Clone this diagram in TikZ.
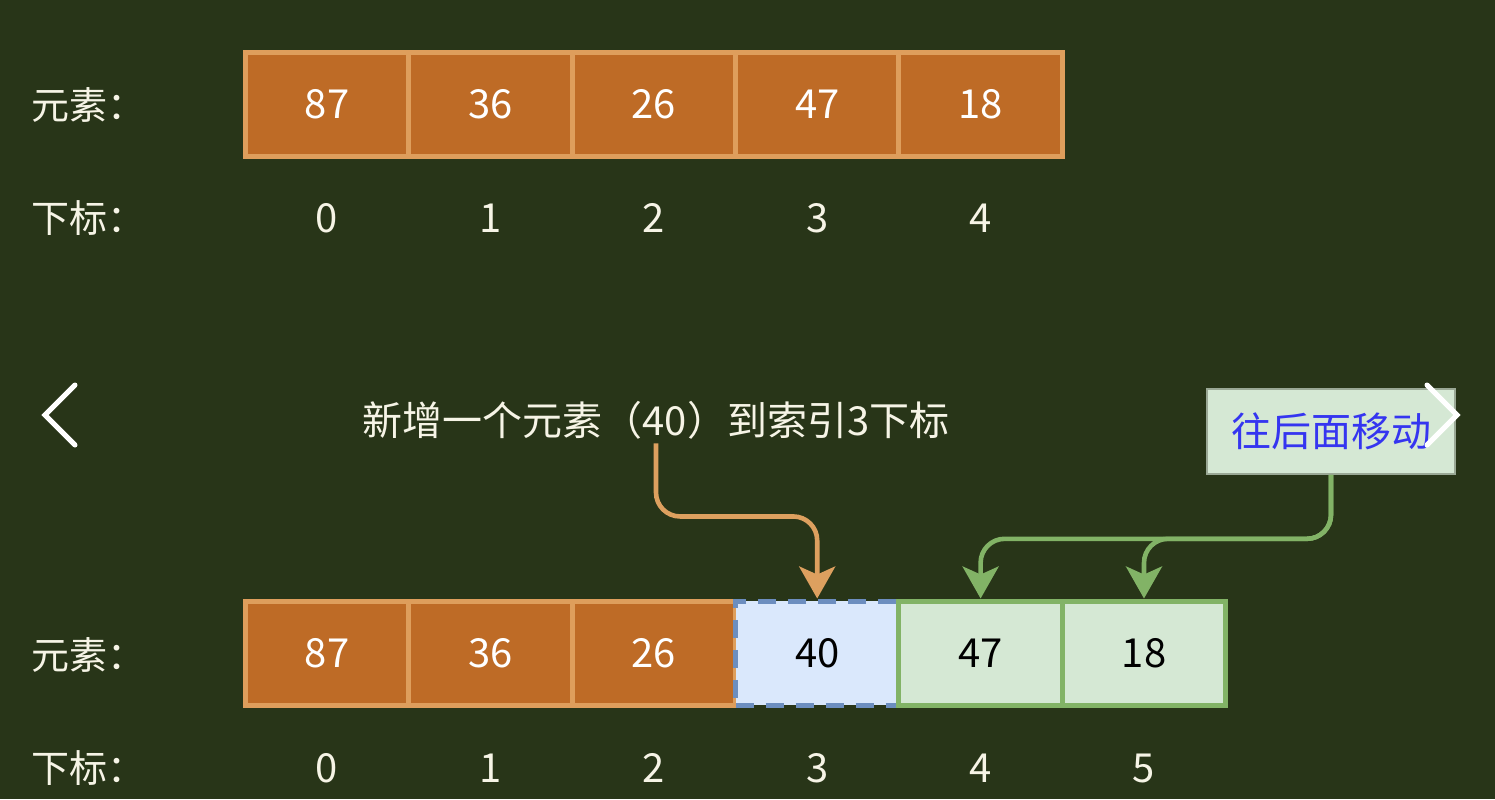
\documentclass[tikz,border=0pt]{standalone}
\usepackage{fontspec}
\setmainfont{Noto Sans CJK SC}
\usetikzlibrary{arrows.meta, positioning}
\definecolor{bgcol}{HTML}{283518}
\definecolor{textcol}{HTML}{F6F4E6}
\definecolor{cellfill}{HTML}{BE6B26}
\definecolor{celldraw}{HTML}{DE9E5C}
\definecolor{newfill}{HTML}{DAE8FC}
\definecolor{newdraw}{HTML}{6C8EBF}
\definecolor{movefill}{HTML}{D5E8D4}
\definecolor{movedraw}{HTML}{82B366}
\definecolor{linkorange}{HTML}{DDA05F}
\definecolor{notedraw}{HTML}{9AA895}
\definecolor{noteblue}{HTML}{3535F0}
\tikzset{>=Stealth,
  cell/.style={draw=celldraw, fill=cellfill, line width=2.5pt, minimum width=81.7pt,
    minimum height=52pt, text=white, font=\fontsize{20}{24}\selectfont},
  newcell/.style={cell, draw=newdraw, fill=newfill, text=black, dashed,
    dash pattern=on 9pt off 6pt},
  movecell/.style={cell, draw=movedraw, fill=movefill, text=black},
  rowlabel/.style={anchor=west, text=textcol, font=\fontsize{19}{22}\selectfont},
  idx/.style={text=textcol, font=\fontsize{20}{24}\selectfont},
  link/.style={line width=2.3pt, rounded corners=12pt,
    -{Stealth[length=16pt, width=18pt, inset=4pt]}}
}
\begin{document}
\begin{tikzpicture}[x=0.5pt, y=-0.5pt]
\fill[bgcol] (0,0) rectangle (1495,799);
\useasboundingbox (0,0) rectangle (1495,799);
% before insertion
\node[rowlabel] (lab-top) at (24,105) {元素：};
\node[rowlabel] (idx-top) at (24,218) {下标：};
\foreach \v [count=\i from 0] in {87,36,26,47,18}
{
  \node[cell] (top-\i) at (327+163.4*\i,104) {\v};
  \node[idx] (topidx-\i) at (327+163.4*\i,218) {\i};
}
% after insertion
\node[rowlabel] (lab-bot) at (24,655) {元素：};
\node[rowlabel] (idx-bot) at (24,768) {下标：};
\foreach \v [count=\i from 0] in {87,36,26}
  \node[cell] (bot-\i) at (327+163.4*\i,653) {\v};
\node[newcell] (bot-3) at (327+163.4*3,653) {40};
\node[movecell] (bot-4) at (327+163.4*4,653) {47};
\node[movecell] (bot-5) at (327+163.4*5,653) {18};
\foreach \i in {0,...,5}
  \node[idx] (botidx-\i) at (327+163.4*\i,768) {\i};
% notes and arrows
\node[text=textcol, font=\fontsize{20}{24}\selectfont, inner sep=2pt] (title) at (656,420)
  {新增一个元素（40）到索引3下标};
\node[draw=notedraw, fill=movefill, line width=0.8pt, minimum width=124pt,
  minimum height=42.5pt, text=noteblue, font=\fontsize{20}{24}\selectfont] (move) at (1331,431.5)
  {往后面移动};
\draw[link, linkorange] (title.south) -- ++(0,73) -| (bot-3.north);
\draw[link, movedraw] (move.south) -- ++(0,64) -| (bot-4.north);
\draw[link, movedraw] (move.south) -- ++(0,64) -| (bot-5.north);
% carousel chevrons
\draw[white, line width=2.5pt, line cap=round] (75,385) -- (45,415) -- (75,445);
\draw[white, line width=2.5pt, line cap=round] (1427,385) -- (1457,415) -- (1427,445);
\end{tikzpicture}
\end{document}
